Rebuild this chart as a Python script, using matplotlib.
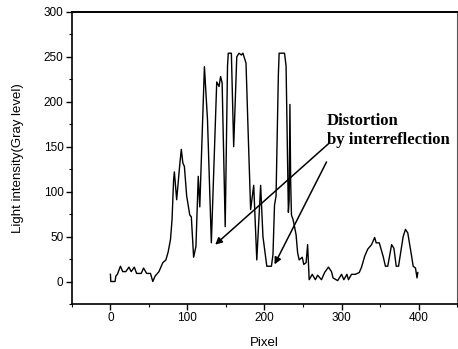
import matplotlib
matplotlib.use("Agg")
import matplotlib.pyplot as plt
from matplotlib.ticker import MultipleLocator, FixedLocator

# Intensity profile along one image row
pixel = [0, 0.5, 6, 7, 9, 13, 16, 20, 24, 27, 31, 34, 40, 43, 47, 52, 55, 58,
         63, 66, 68, 72, 75, 78, 80, 82, 83, 86, 90, 92, 94, 96, 99, 103, 105,
         108, 111, 114, 116, 122, 126, 131, 138, 141, 143, 145, 149, 152, 153,
         157, 160, 164, 167, 170, 172, 176, 179, 182, 186, 190, 195, 198, 203,
         209, 211, 213, 215, 218, 219, 226, 228, 231, 232, 233, 234, 235, 237,
         239, 241, 243, 245, 249, 251, 254, 256, 258, 262, 266, 269, 274, 278,
         283, 287, 289, 295, 300, 303, 307, 309, 313, 316, 318, 323, 326, 330,
         334, 339, 343, 345, 349, 354, 357, 360, 365, 368, 371, 374, 380, 383,
         386, 391, 393, 396, 398, 399]
gray = [8, 0, 0, 6, 8, 17, 11, 11, 16, 11, 16, 9, 9, 15, 9, 9, 0, 6,
        11, 17, 21, 24, 33, 47, 69, 113, 122, 91, 130, 147, 132, 128, 95, 74, 72,
        27, 39, 117, 83, 239, 180, 43, 222, 217, 228, 221, 61, 240, 254,
        254, 150, 250, 254, 252, 254, 243, 160, 80, 107, 24, 107, 50, 17,
        17, 30, 85, 95, 230, 254, 254, 240, 77, 90, 197, 110, 74, 69,
        61, 52, 32, 24, 27, 19, 21, 41, 2, 8, 2, 7, 2, 10,
        16, 11, 4, 1, 8, 2, 8, 2, 8, 8, 8, 10, 16, 28,
        36, 41, 49, 43, 43, 28, 17, 17, 41, 37, 17, 17, 50, 58,
        54, 28, 17, 15, 4, 10]

x_major = [0, 100, 200, 300, 400]
y_major = [0, 50, 100, 150, 200, 250, 300]

fig = plt.figure(figsize=(4.58, 3.49), dpi=100)
ax = fig.add_axes([0.157, 0.129, 0.841, 0.837])

ax.plot(pixel, gray, color="black", lw=1.0)

ax.set_xlim(-50, 450)
ax.set_ylim(-25, 300)
ax.xaxis.set_major_locator(FixedLocator(x_major))
ax.yaxis.set_major_locator(FixedLocator(y_major))
ax.xaxis.set_minor_locator(MultipleLocator(50))
ax.yaxis.set_minor_locator(MultipleLocator(25))

ax.tick_params(axis="both", which="major", direction="out", length=4,
               width=1, pad=2, labelsize=8.5)
ax.tick_params(axis="both", which="minor", direction="out", length=2.5, width=0.8)
for lab in ax.get_xticklabels() + ax.get_yticklabels():
    lab.set_fontfamily("Liberation Sans")

for side in ("left", "bottom"):
    ax.spines[side].set_linewidth(1.2)
ax.spines["top"].set_linewidth(1.4)
ax.spines["right"].set_linewidth(0.8)
ax.spines["right"].set_color("#555555")

ax.set_xlabel("Pixel", family="Liberation Sans", size=9.5, labelpad=9)
ax.set_ylabel("Light intensity(Gray level)", family="Liberation Sans", size=9.5,
              labelpad=14)

ax.text(280.5, 187, "Distortion\nby interreflection", family="Liberation Serif",
        weight="bold", size=12, ha="left", va="top", linespacing=1.2)

arrow = dict(arrowstyle="-|>", color="black", lw=1.1, mutation_scale=10,
             shrinkA=0, shrinkB=0)
ax.annotate("", xy=(136, 41), xytext=(284, 154), arrowprops=arrow)
ax.annotate("", xy=(213, 19), xytext=(280.5, 133), arrowprops=arrow)

fig.savefig("out.png", dpi=100)
